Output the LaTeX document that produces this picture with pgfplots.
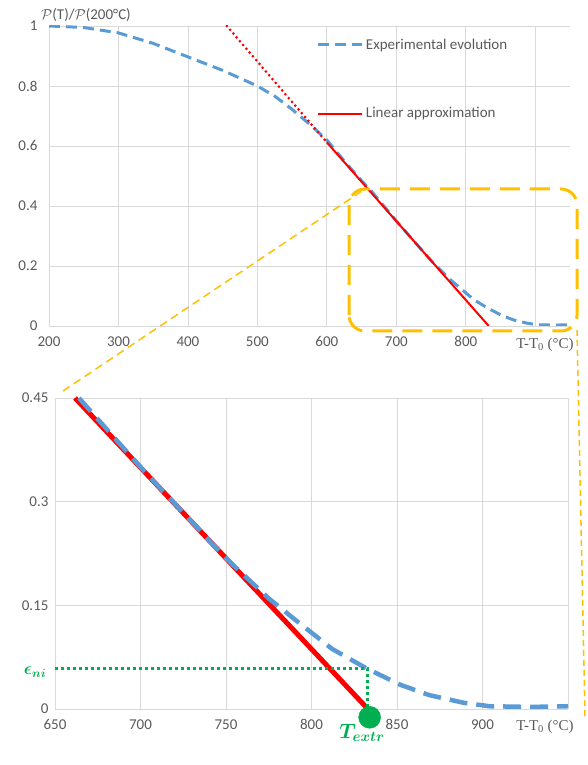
\documentclass[border=0pt]{standalone}
\usepackage{pgfplots}
\pgfplotsset{compat=1.18}
\usepackage{amsmath,bm}
\usepackage{fontspec}
\setmainfont{Carlito}
\newfontfamily\serifcam{Liberation Serif}
\definecolor{tgray}{HTML}{595959}
\definecolor{ggray}{HTML}{D9D9D9}
\definecolor{xblue}{HTML}{5B9BD5}
\definecolor{xyellow}{HTML}{FFC000}
\definecolor{xgreen}{HTML}{00B050}
\pgfplotsset{
 base/.style={
  scale only axis, anchor=south west,
  axis line style={draw=none}, tick style={draw=none},
  grid=major, grid style={ggray, line width=0.8pt},
  ticklabel style={font=\fontsize{15}{15}\selectfont, text=tgray},
  xticklabel style={yshift=-7pt},
  /pgf/number format/assume math mode=true,
 }
}
\pgfplotstableread{
x y
200 1.000
250 0.995
300 0.977
350 0.942
400 0.897
450 0.852
500 0.800
525 0.766
550 0.722
575 0.673
600 0.620
625 0.550
650 0.484
664 0.450
700 0.350
750 0.218
775 0.160
790 0.130
812 0.087
832 0.059
852 0.035
869 0.020
889 0.009
904 0.004
928 0.003
950 0.004
}\expdata
\begin{document}
\begin{tikzpicture}
\useasboundingbox (0,0) rectangle (588pt,765pt);
% top chart
\begin{axis}[base, at={(49pt,439pt)}, width=521pt, height=300pt,
 xmin=200, xmax=950, ymin=0, ymax=1,
 xtick={200,300,...,900}, xticklabels={200,300,400,500,600,700,800,{}},
 ytick={0,0.2,0.4,0.6,0.8,1}, yticklabels={0,0.2,0.4,0.6,0.8,1},
 yticklabel style={xshift=-8pt},
 legend style={at={(0.514,0.965)}, anchor=north west, draw=none, fill=none,
   font=\fontsize{15}{15}\selectfont, text=tgray, row sep=53pt, inner sep=0pt},
 legend cell align=left,
 legend image code/.code={\draw[#1] (0pt,0pt) -- (44pt,0pt);}
]
\addplot[xblue, line width=3pt, dash pattern=on 11pt off 6pt] table[x=x,y=y] {\expdata};
\addlegendentry{Experimental evolution}
\addplot[red, line width=2pt] coordinates {(600,0.612) (833,0)};
\addlegendentry{Linear approximation}
\addplot[red, line width=3pt, line cap=round, dash pattern=on 0pt off 5pt, forget plot] coordinates {(456,1) (600,0.612)};
\end{axis}
% bottom chart
\begin{axis}[base, at={(55pt,56pt)}, width=513pt, height=311pt,
 xmin=650, xmax=950, ymin=0, ymax=0.45, clip=false,
 xtick={650,700,...,950}, xticklabels={650,700,750,800,850,900,{}},
 ytick={0,0.15,0.3,0.45}, yticklabels={0,0.15,0.3,0.45},
 yticklabel style={xshift=-3pt}
]
\addplot[red, line width=5pt] coordinates {(661.7,0.45) (833,0)};
\addplot[xblue, line width=4.5pt, dash pattern=on 18pt off 9pt] table[x=x,y=y] {
x y
664 0.450
700 0.350
750 0.218
775 0.160
790 0.130
812 0.087
832 0.059
852 0.035
869 0.020
889 0.009
904 0.004
928 0.003
950 0.004
};
\addplot[xgreen, line width=3pt, dash pattern=on 3pt off 3pt] coordinates {(650,0.058) (833,0.058) (833,0)};
\addplot[only marks, mark=*, mark size=11pt, xgreen] coordinates {(834,-0.012)};
\end{axis}
% annotations
\draw[xyellow, line width=3pt, dash pattern=on 20pt off 10pt, rounded corners=16pt] (349pt,434pt) rectangle (577pt,576pt);
\draw[xyellow, line width=1.5pt, dash pattern=on 8pt off 5pt] (63pt,374pt) -- (362pt,574pt);
\draw[xyellow, line width=1.5pt, dash pattern=on 6pt off 4pt] (577pt,435pt) -- (585pt,48pt);
\node[text=tgray, font=\fontsize{15}{15}\selectfont] at (86pt,750pt) {$\mathcal{P}$(T)/$\mathcal{P}$(200°C)};
\node[text=tgray, font=\serifcam\fontsize{15}{15}\selectfont] at (545pt,420pt) {T-T\textsubscript{0} (°C)};
\node[text=tgray, font=\serifcam\fontsize{15}{15}\selectfont] at (545pt,38pt) {T-T\textsubscript{0} (°C)};
\node[text=xgreen, font=\fontsize{17}{17}\selectfont] at (35pt,93pt) {$\boldsymbol{\epsilon_{ni}}$};
\node[text=xgreen, font=\fontsize{22}{22}\selectfont] at (362pt,32pt) {$\boldsymbol{T_{extr}}$};
\end{tikzpicture}
\end{document}
